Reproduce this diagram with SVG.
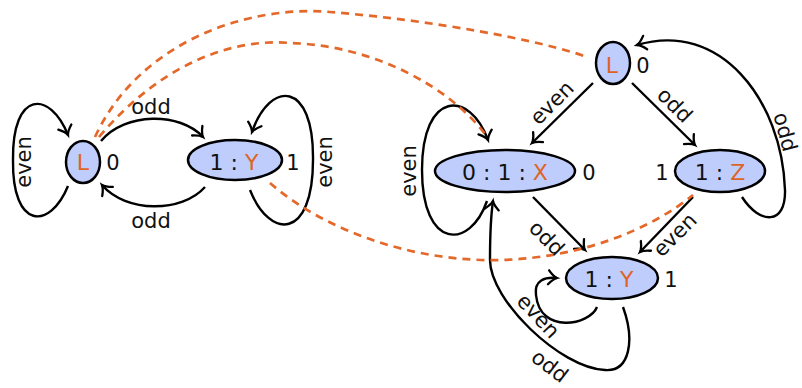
<svg xmlns="http://www.w3.org/2000/svg" width="802" height="388" viewBox="0 0 802 388">
<style>
text{font-family:"DejaVu Sans","Noto Sans",sans-serif;font-size:21px;fill:#111}
.n{font-size:22px}
.node{fill:#bfcdfd;stroke:#000;stroke-width:2.5}
.e{fill:none;stroke:#000;stroke-width:2.4}
.d{fill:none;stroke:#e4682a;stroke-width:2.7;stroke-dasharray:8 6}
.o{fill:#de6426}
.m{text-anchor:middle}
</style>
<defs>
<marker id="ar" markerUnits="userSpaceOnUse" viewBox="-10 -8 12 16" refX="0" refY="0" markerWidth="12" markerHeight="16" orient="auto" overflow="visible">
<path d="M -8.5 -7 C -5 -2.8 -2 -0.7 0 0 C -2 0.7 -5 2.8 -8.5 7" fill="none" stroke="#000" stroke-width="2.3" stroke-linecap="round"/>
</marker>
</defs>
<g id="connectors">
<path class="e" d="M 101 141 C 125 112 180 112 203 137" marker-end="url(#ar)"/>
<path class="e" d="M 205 187 C 182 213 126 213 102 185" marker-end="url(#ar)"/>
<path class="e" d="M 68 186 C 50 230 12 230 13 160 C 12 90 50 90 68 135" marker-end="url(#ar)"/>
<path class="e" d="M 250 190 C 270 240 313 240 313 160 C 314 80 270 80 252 132" marker-end="url(#ar)"/>
<path class="e" d="M 593 83 L 532 143" marker-end="url(#ar)"/>
<path class="e" d="M 632 83 L 695 145" marker-end="url(#ar)"/>
<path class="e" d="M 742 197 C 760 225 786 225 785 190 C 782 100 720 20 637 45" marker-end="url(#ar)"/>
<path class="e" d="M 487 201 C 470 250 422 250 422 170 C 422 90 470 90 488 140" marker-end="url(#ar)"/>
<path class="e" d="M 533 197 L 585 250" marker-end="url(#ar)"/>
<path class="e" d="M 693 197 L 640 252" marker-end="url(#ar)"/>
<path class="e" d="M 597 307 C 590 325 540 335 536 295 C 534 280 545 277 557 278" marker-end="url(#ar)"/>
<path class="e" d="M 623 307 C 635 340 630 372 605 370 C 560 368 490 300 490 260 C 490 235 491 215 493 201" marker-end="url(#ar)"/>
<path class="d" d="M 95 137 C 140 40 250 5 330 12 C 430 20 540 40 587 57"/>
<path class="d" d="M 99 137 C 160 65 230 38 290 43 C 370 45 450 85 488 138"/>
<path class="d" d="M 270 183 C 330 235 420 262 500 260 C 580 258 650 230 693 195"/>
</g>
<g id="edge-labels">
<text class="m" x="151" y="113.5">odd</text>
<text class="m" x="151" y="228">odd</text>
<text class="m" transform="translate(25.5,162) rotate(-90)" y="5.5">even</text>
<text class="m" transform="translate(326,162) rotate(-90)" y="5.5">even</text>
<text class="m" transform="translate(410,171) rotate(-90)" y="5.5">even</text>
<text class="m" transform="translate(553,104) rotate(-45)" y="5.5">even</text>
<text class="m" transform="translate(675,105) rotate(45)" y="7.5">odd</text>
<text class="m" transform="translate(785,132) rotate(75)" y="7">odd</text>
<text class="m" transform="translate(547,238) rotate(45)" y="7.5">odd</text>
<text class="m" transform="translate(676,236) rotate(-45)" y="5.5">even</text>
<text class="m" transform="translate(537,317) rotate(47)" y="5.5">even</text>
<text class="m" transform="translate(550,366) rotate(37)" y="7.5">odd</text>
</g>
<g id="nL1">
<ellipse class="node" cx="83" cy="162" rx="17" ry="21"/>
<text class="m n" x="83" y="170"><tspan class="o">L</tspan></text>
<text class="m" x="113" y="170">0</text>
</g>
<g id="nY1">
<ellipse class="node" cx="235" cy="160" rx="47" ry="20"/>
<text class="m n" x="234" y="170">1 : <tspan class="o">Y</tspan></text>
<text class="m" x="293" y="170">1</text>
</g>
<g id="nL2">
<ellipse class="node" cx="613" cy="63" rx="17" ry="21"/>
<text class="m n" x="612" y="73"><tspan class="o">L</tspan></text>
<text class="m" x="643" y="73">0</text>
</g>
<g id="nX">
<ellipse class="node" cx="505" cy="171" rx="70" ry="21"/>
<text class="m n" x="505" y="180">0 : 1 : <tspan class="o">X</tspan></text>
<text class="m" x="589" y="180">0</text>
</g>
<g id="nZ">
<ellipse class="node" cx="720" cy="171" rx="45" ry="21"/>
<text class="m n" x="720" y="180">1 : <tspan class="o">Z</tspan></text>
<text class="m" x="662" y="180">1</text>
</g>
<g id="nY2">
<ellipse class="node" cx="612" cy="278" rx="46" ry="21"/>
<text class="m n" x="609" y="287">1 : <tspan class="o">Y</tspan></text>
<text class="m" x="671" y="287">1</text>
</g>
</svg>
